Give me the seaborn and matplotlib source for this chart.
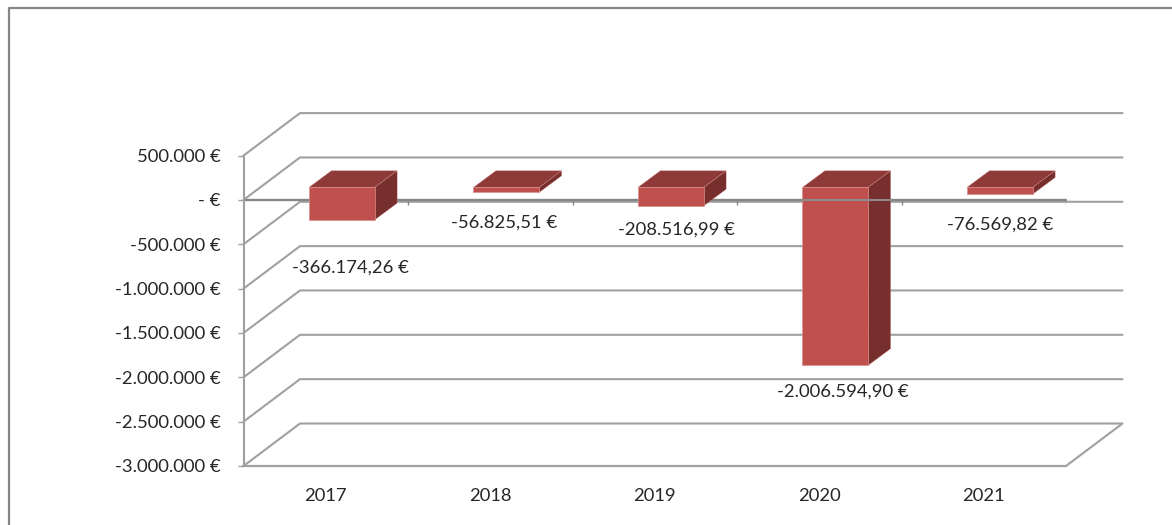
import matplotlib
matplotlib.use('Agg')
import matplotlib.pyplot as plt
from matplotlib.patches import Polygon
from matplotlib.lines import Line2D
import seaborn as sns

sns.set_theme(style='white')
config = {
    "font.family": ['Lato', 'DejaVu Sans'],
    "font.size": 13.3,
    "xtick.labelsize": 13.2,
    "ytick.labelsize": 13.3,
    "text.color": '#262626',
    "xtick.color": '#262626',
    "ytick.color": '#262626',
}
plt.rcParams.update(config)

# Data
years = ['2017', '2018', '2019', '2020', '2021']
results = [-366174.26, -56825.51, -208516.99, -2006594.90, -76569.82]
y_ticks = [500000, 0, -500000, -1000000, -1500000, -2000000, -2500000, -3000000]

W, H = 1172, 525
GRID = '#a0a0a0'
FRONT = '#c0504d'
TOP = '#8e3a38'
SIDE = '#772f2d'
EDGE = '#d98f8c'


def euro(v, decimals):
    if v == 0:
        return '- €'
    txt = f'{v:,.{decimals}f}'.replace(',', 'X').replace('.', ',').replace('X', '.')
    return txt + ' €'


fig = plt.figure(figsize=(W / 100, H / 100), dpi=100)
left, right, floor, top = 243.5, 1066, 466, 155.6
ax = fig.add_axes([left / W, (H - floor) / H, (right - left) / W, (floor - top) / H])
ax.patch.set_alpha(0)

sns.barplot(x=years, y=results, color=FRONT, width=0.4, saturation=1, ax=ax, zorder=4)
ax.set_xlim(-0.5, 4.5)
ax.set_ylim(y_ticks[-1], y_ticks[0])

# pixels to data units
px_x = 5 / (right - left)
px_y = (y_ticks[0] - y_ticks[-1]) / (floor - top)

# wall and floor depth
dx, dy = 56.5 * px_x, 42.5 * px_y
for t in y_ticks:
    if t == y_ticks[-1]:
        ax.plot([-0.5, -0.5 + dx, 4.5 + dx, 4.5, -0.5], [t, t + dy, t + dy, t, t],
                color=GRID, lw=1.5, clip_on=False, zorder=1)
    else:
        ax.plot([-0.5, -0.5 + dx, 4.5 + dx], [t, t + dy, t + dy],
                color=GRID, lw=1.5, clip_on=False, zorder=1)

# axis at zero, ticks on the category borders
ax.axhline(0, color='#868686', lw=1.7, zorder=2, clip_on=False)
ax.vlines([i + 0.5 for i in range(5)], -5 * px_y, 0, color='#868686', lw=1, zorder=2)

# bars stand in the middle of the depth, add top and side faces
bar_dx, bar_dy = 16 * px_x, 12.5 * px_y
side_dx, side_dy = 22.5 * px_x, 16.7 * px_y
for p in ax.patches:
    p.set_x(p.get_x() + bar_dx)
    p.set_y(p.get_y() + bar_dy)
    p.set_edgecolor(EDGE)
    p.set_linewidth(0.5)
    x0, x1 = p.get_x(), p.get_x() + p.get_width()
    y0, y1 = p.get_y(), p.get_y() + p.get_height()
    ax.add_patch(Polygon([(x0, y0), (x0 + side_dx, y0 + side_dy), (x1 + side_dx, y0 + side_dy), (x1, y0)],
                         closed=True, facecolor=TOP, edgecolor=EDGE, lw=0.25, zorder=3, clip_on=False))
    ax.add_patch(Polygon([(x1, y0), (x1 + side_dx, y0 + side_dy), (x1 + side_dx, y1 + side_dy), (x1, y1)],
                         closed=True, facecolor=SIDE, edgecolor=EDGE, lw=0.25, zorder=3, clip_on=False))

# the axis shows through the tallest bar in the original
deep = ax.patches[results.index(min(results))]
ax.hlines(0, deep.get_x(), deep.get_x() + deep.get_width() + side_dx,
          color='#8c8c8c', lw=1.5, zorder=4.5)

# data labels, pushed around by hand like in the original
label_shift = [(9, -48), (-2, -30), (6, -24), (8, -26), (0, -30)]
for p, v, (sx, sy) in zip(list(ax.patches)[:5], results, label_shift):
    ax.annotate(euro(v, 2), (p.get_x() + p.get_width() / 2, p.get_y() + p.get_height()),
                xytext=(sx * 0.72, sy * 0.72), textcoords='offset points',
                ha='center', va='center', zorder=5, annotation_clip=False)

ax.set_yticks(y_ticks)
ax.set_yticklabels([euro(t, 0) for t in y_ticks])
ax.set_xticks(range(5))
ax.set_xticklabels(years)
ax.set_xlabel('')
ax.set_ylabel('')
ax.tick_params(axis='y', left=True, length=4.5, width=1, color=GRID, pad=12)
ax.tick_params(axis='x', bottom=False, pad=10)
sns.despine(ax=ax, top=True, right=True)
for s in ['left', 'bottom']:
    ax.spines[s].set_color(GRID)
    ax.spines[s].set_linewidth(1.5)

# chart frame, only left and top are inside the picture
fx0, fy = 9 / W, 1 - 8 / H
fig.add_artist(Line2D([fx0, fx0, 1], [0, fy, fy], color='#868686', lw=1.6))

fig.savefig('out.png', dpi=100)
